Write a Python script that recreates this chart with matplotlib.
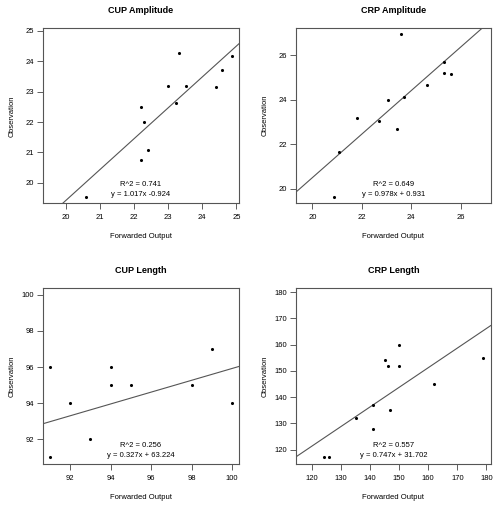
import matplotlib
matplotlib.use("Agg")
import matplotlib.pyplot as plt
import numpy as np

plt.rcParams['font.family'] = ['Liberation Sans', 'DejaVu Sans']

titles = ["CUP Amplitude", "CRP Amplitude", "CUP Length", "CRP Length"]

cup_amp_x = [20.59, 22.21, 22.29, 22.40, 22.21, 23.00, 23.22, 23.32, 23.51, 24.40, 24.59, 24.87]
cup_amp_y = [19.54, 22.51, 21.99, 21.07, 20.75, 23.17, 22.64, 24.28, 23.18, 23.16, 23.72, 24.16]

crp_amp_x = [20.88, 21.06, 21.82, 22.70, 23.06, 23.58, 23.44, 23.71, 24.64, 25.34, 25.33, 25.60]
crp_amp_y = [19.63, 21.66, 23.18, 23.02, 23.99, 26.93, 22.69, 24.14, 24.68, 25.70, 25.22, 25.15]

cup_len_x = [91, 91, 92, 93, 94, 94, 95, 98, 99, 100]
cup_len_y = [96, 91, 94, 92, 96, 95, 95, 95, 97, 94]

crp_len_x = [124, 126, 135, 141, 141, 145, 146, 147, 150, 150, 162, 179]
crp_len_y = [117, 117, 132, 137, 128, 154, 152, 135, 160, 152, 145, 155]

slopes = [1.017, 0.978, 0.327, 0.747]
intercepts = [-0.924, 0.931, 63.224, 31.702]
r2_labels = ["R^2 = 0.741", "R^2 = 0.649", "R^2 = 0.256", "R^2 = 0.557"]
eq_labels = ["y = 1.017x -0.924", "y = 0.978x + 0.931", "y = 0.327x + 63.224", "y = 0.747x + 31.702"]

ticks = [
    [20, 21, 22, 23, 24, 25],
    [20, 22, 24, 26],
    [92, 94, 96, 98, 100],
    [120, 130, 140, 150, 160, 170, 180],
]

xs = [cup_amp_x, crp_amp_x, cup_len_x, crp_len_x]
ys = [cup_amp_y, crp_amp_y, cup_len_y, crp_len_y]

W, H = 500, 511
fig = plt.figure(figsize=(W / 100, H / 100), dpi=100)

# (left, top, right, bottom) in pixels
boxes = [
    (42.7, 28.3, 239.3, 203.3),
    (296.0, 28.0, 490.7, 203.3),
    (42.7, 288.3, 239.3, 464.0),
    (296.0, 288.3, 490.7, 464.0),
]

fs = 5.5
for i in range(4):
    l, t, r, b = boxes[i]
    ax = fig.add_axes([l / W, (H - b) / H, (r - l) / W, (b - t) / H])
    x = np.array(xs[i]); y = np.array(ys[i])
    lo = min(x.min(), y.min()); hi = max(x.max(), y.max())
    pad = (hi - lo) * 0.04
    ax.set_xlim(lo - pad, hi + pad)
    ax.set_ylim(lo - pad, hi + pad)
    ax.scatter(x, y, s=5, color='black', zorder=3, linewidths=0)
    ax.axline((0, intercepts[i]), slope=slopes[i], color='#555555', lw=0.8)
    ax.set_xticks(ticks[i]); ax.set_yticks(ticks[i])
    ax.tick_params(axis='both', labelsize=fs, length=4, width=0.6, color='#444444')
    ax.tick_params(axis='x', pad=4)
    ax.tick_params(axis='y', pad=2.5)
    for sp in ax.spines.values():
        sp.set_color('#555555'); sp.set_linewidth(0.8)
    hpx = b - t; wpx = r - l
    ax.set_xlabel("Forwarded Output", fontsize=fs, va='center')
    ax.xaxis.set_label_coords(0.5, -33.3 / hpx)
    ax.set_ylabel("Observation", fontsize=fs, va='center')
    ax.yaxis.set_label_coords(-31 / wpx, 0.5)
    ax.text(0.5, 1 + 17.8 / hpx, titles[i], transform=ax.transAxes, ha='center', va='center',
            fontsize=6.5, fontweight='bold')
    ax.text(0.5, 0.108, r2_labels[i], transform=ax.transAxes, ha='center', va='center', fontsize=fs)
    ax.text(0.5, 0.051, eq_labels[i], transform=ax.transAxes, ha='center', va='center', fontsize=fs)

fig.savefig("out.png", dpi=100)
